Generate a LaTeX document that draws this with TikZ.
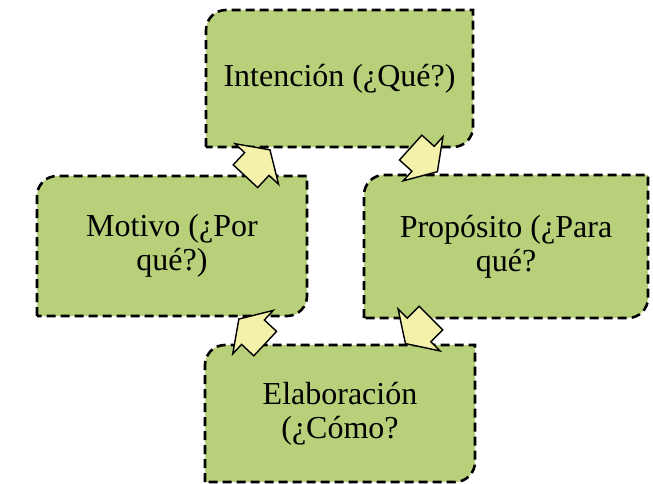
\documentclass[tikz,border=0pt]{standalone}
\usepackage{fontspec}
\setmainfont{Liberation Serif}
\usepackage{tikz}
\usetikzlibrary{shapes.arrows, backgrounds}
\definecolor{leafgreen}{HTML}{B8D07A}
\definecolor{paleyellow}{HTML}{F3F1AA}

\tikzset{
  stage/.style={align=center, inner sep=0pt, outer sep=0pt, font=\fontsize{32}{34}\selectfont},
  leaf/.style={fill=leafgreen, draw=black, line width=2.6pt, dash pattern=on 9pt off 5pt},
  turn/.style={single arrow, draw=black, fill=paleyellow, line width=1.4pt,
    inner xsep=0pt, inner ysep=16pt, minimum height=36pt, minimum width=58pt,
    single arrow head extend=13pt, single arrow tip angle=114},
}
% box with rounded top left and bottom right corners
\newcommand{\leafbox}[1]{%
  \draw[leaf] (#1.south west) -- ([yshift=-20pt]#1.north west)
    arc[start angle=180, end angle=90, radius=20pt] -- (#1.north east)
    -- ([yshift=20pt]#1.south east) arc[start angle=0, end angle=-90, radius=20pt] -- cycle;}

\begin{document}
\begin{tikzpicture}[x=1pt, y=1pt]
    \useasboundingbox (0,0) rectangle (653,-483);
    \node[stage, minimum width=267, minimum height=137] (int) at (339.5,-78.5) {Intención (¿Qué?)};
    \node[stage, minimum width=270, minimum height=140] (mot) at (172,-246) {Motivo (¿Por\\qué?)};
    \node[stage, minimum width=284, minimum height=143] (pro) at (506,-246.5) {Propósito (¿Para\\qué?};
    \node[stage, minimum width=270, minimum height=137] (ela) at (340,-413.5) {Elaboración\\(¿Cómo?};
    \begin{scope}[on background layer]
      \leafbox{int} \leafbox{mot} \leafbox{pro} \leafbox{ela}
    \end{scope}
    \node[turn, rotate=47]   (motint) at (254,-167) {};
    \node[turn, rotate=-42]  (intpro) at (420,-156) {};
    \node[turn, rotate=-135] (proela) at (422,-327) {};
    \node[turn, rotate=137]  (elamot) at (256,-335) {};
  \end{tikzpicture}
\end{document}
